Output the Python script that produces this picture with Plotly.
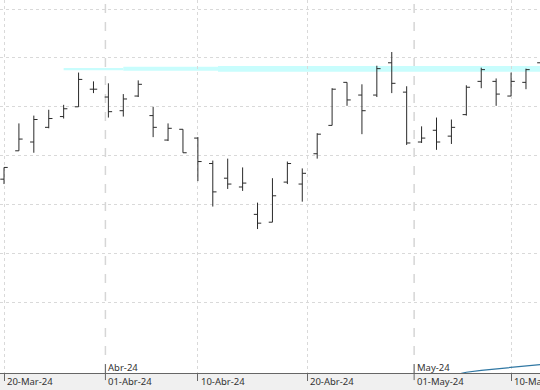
import pandas as pd
import plotly.graph_objects as go

# ---- data -------------------------------------------------------------
dates = ["2024-03-20", "2024-03-21", "2024-03-22", "2024-03-25", "2024-03-26",
         "2024-03-27", "2024-03-28", "2024-04-02", "2024-04-03", "2024-04-04",
         "2024-04-05", "2024-04-08", "2024-04-09", "2024-04-10", "2024-04-11",
         "2024-04-12", "2024-04-15", "2024-04-16", "2024-04-17", "2024-04-18",
         "2024-04-19", "2024-04-22", "2024-04-23", "2024-04-24", "2024-04-25",
         "2024-04-26", "2024-04-29", "2024-04-30", "2024-05-02", "2024-05-03",
         "2024-05-06", "2024-05-07", "2024-05-08", "2024-05-09", "2024-05-10",
         "2024-05-13", "2024-05-14"]
opens  = [10.26, 10.55, 10.64, 10.79, 10.90, 11.00, 11.18, 11.10, 10.96, 11.11,
          10.91, 10.66, 10.77, 10.68, 10.42, 10.27, 10.18, 9.90, 9.82, 10.23,
          10.21, 10.52, 10.81, 11.25, 11.12, 11.12, 11.45, 11.15, 10.64, 10.76,
          10.70, 10.92, 11.26, 11.26, 11.11, 11.25, 11.45]
highs  = [10.38, 10.83, 10.91, 10.97, 11.02, 11.35, 11.26, 11.24, 11.13, 11.27,
          11.00, 10.83, 10.77, 10.69, 10.45, 10.47, 10.38, 10.02, 10.27, 10.44,
          10.37, 10.73, 11.19, 11.25, 11.23, 11.42, 11.56, 11.21, 10.80, 10.89,
          10.87, 11.22, 11.40, 11.29, 11.35, 11.39, 11.50]
lows   = [10.21, 10.55, 10.53, 10.78, 10.88, 11.00, 11.14, 10.89, 10.90, 11.10,
          10.69, 10.65, 10.53, 10.24, 9.98, 10.16, 10.14, 9.75, 9.82, 10.21,
          10.03, 10.47, 10.81, 11.01, 10.72, 11.10, 11.14, 10.61, 10.63, 10.56,
          10.62, 10.91, 11.19, 11.01, 11.11, 11.18, 11.40]
closes = [10.38, 10.67, 10.87, 10.88, 10.98, 11.28, 11.18, 10.95, 11.08, 11.23,
          10.79, 10.78, 10.53, 10.44, 10.13, 10.21, 10.22, 9.81, 10.09, 10.42,
          10.32, 10.72, 11.18, 11.07, 10.96, 11.39, 11.24, 10.63, 10.68, 10.64,
          10.79, 11.20, 11.38, 11.13, 11.26, 11.38, 11.47]

# indicator line (bottom right)
indicator_dates  = ["2024-05-06", "2024-05-07", "2024-05-08", "2024-05-09",
                    "2024-05-10", "2024-05-13", "2024-05-14"]
indicator_values = [8.25, 8.286, 8.305, 8.320, 8.335, 8.350, 8.365]

# resistance zone pieces: (start index, low, high)
zone_starts = [4, 8, 14.35]
zone_lows   = [11.374, 11.369, 11.359]
zone_highs  = [11.397, 11.410, 11.417]

day_ticks   = ["2024-03-20", "2024-04-10", "2024-04-20", "2024-05-10"]
day_labels  = ["20-Mar-24", "10-Abr-24", "20-Abr-24", "10-May-24"]
month_ticks = ["2024-04-01", "2024-05-01"]
day_labels_m = ["01-Abr-24", "01-May-24"]
month_labels = ["Abr-24", "May-24"]
grid_levels = [9.0, 9.5, 10.0, 10.5, 11.0, 11.5, 12.0]

# ---- helpers ------------------------------------------------------------
ds = pd.to_datetime(dates)
idx = list(range(len(dates)))


def pos_of(d):
    t = pd.Timestamp(d)
    i = int(ds.searchsorted(t, side="right")) - 1
    if ds[i] == t:
        return float(i)
    return i + (t - ds[i]) / (ds[i + 1] - ds[i])


day_pos = [pos_of(d) for d in day_ticks]
month_pos = [pos_of(d) for d in month_ticks]
ind_x = [pos_of(d) for d in indicator_dates]

bar_color = "#2a2a2a"
fig = go.Figure()
fig.add_trace(go.Ohlc(
    x=idx, open=opens, high=highs, low=lows, close=closes,
    increasing=dict(line=dict(color=bar_color, width=1)),
    decreasing=dict(line=dict(color=bar_color, width=1)),
    tickwidth=0.25, showlegend=False, hoverinfo="skip"))
fig.add_trace(go.Scatter(
    x=ind_x, y=indicator_values, mode="lines",
    line=dict(color="#2f77a3", width=1.2), showlegend=False, hoverinfo="skip"))

shapes = []
for k in range(len(zone_starts)):
    x1 = zone_starts[k + 1] if k + 1 < len(zone_starts) else len(dates) + 2
    shapes.append(dict(type="rect", xref="x", yref="y", x0=zone_starts[k], x1=x1,
                       y0=zone_lows[k], y1=zone_highs[k],
                       fillcolor="#c8fdfd", line=dict(width=0), layer="below"))
for mp in month_pos:
    shapes.append(dict(type="line", xref="x", yref="paper", x0=mp, x1=mp, y0=0, y1=1,
                       line=dict(color="#d6d6d6", width=1.5, dash="dash"), layer="below"))
    shapes.append(dict(type="line", xref="x", yref="paper", x0=mp, x1=mp,
                       y0=0.024, y1=-0.019, line=dict(color="#666666", width=1)))

annotations = []
for p, lab in zip(day_pos + month_pos, day_labels + day_labels_m):
    annotations.append(dict(x=p, y=-0.0235, xref="x", yref="paper", text=lab,
                            showarrow=False, xanchor="left", yanchor="middle", xshift=1,
                            font=dict(family="Noto Sans", size=9.5, color="#333333")))
for p, lab in zip(month_pos, month_labels):
    annotations.append(dict(x=p, y=0.016, xref="x", yref="paper", text=lab,
                            showarrow=False, xanchor="left", yanchor="middle", xshift=1,
                            font=dict(family="Noto Sans", size=9.5, color="#333333")))

fig.update_layout(
    width=540, height=390,
    margin=dict(l=0, r=0, t=0, b=17),
    paper_bgcolor="#f0f0f0", plot_bgcolor="#ffffff",
    shapes=shapes, annotations=annotations,
    xaxis=dict(range=[-0.268, 35.94], tickvals=day_pos, showticklabels=False,
               ticks="outside", ticklen=7, tickcolor="#666666",
               showgrid=True, gridcolor="#d9d9d9", griddash="dot", gridwidth=1,
               showline=True, linecolor="#666666", linewidth=1,
               zeroline=False, rangeslider=dict(visible=False), fixedrange=True),
    yaxis=dict(range=[8.278, 12.092], tickvals=grid_levels, showticklabels=False,
               showgrid=True, gridcolor="#d9d9d9", griddash="dot", gridwidth=1,
               zeroline=False, showline=False, fixedrange=True),
)

fig.write_html("out.html", config={"displayModeBar": False},
               post_script="document.body.style.margin='0px';")
